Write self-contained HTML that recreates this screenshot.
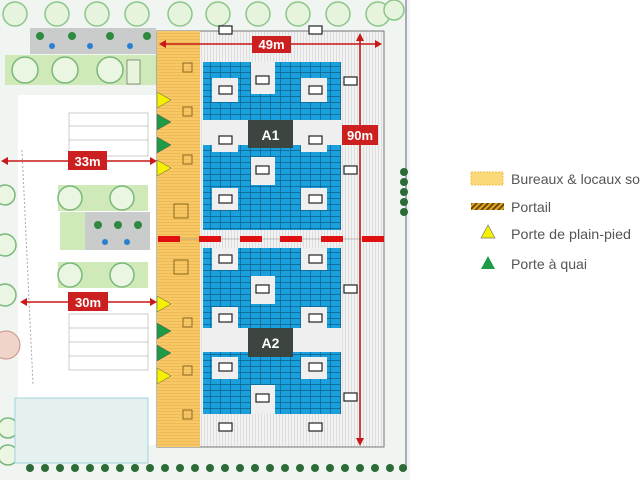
<!DOCTYPE html>
<html><head><meta charset="utf-8"><style>
html,body{margin:0;padding:0;background:#fff;}
svg{display:block;}
text{font-family:"Liberation Sans",sans-serif;}
</style></head><body>
<svg width="640" height="480" viewBox="0 0 640 480" xmlns="http://www.w3.org/2000/svg">
<defs>
<pattern id="vh" width="3" height="3" patternUnits="userSpaceOnUse"><rect width="3" height="3" fill="#f2f2f2"/><line x1="0.5" y1="0" x2="0.5" y2="3" stroke="#cfcfcf" stroke-width="0.6"/></pattern>
<pattern id="hh" width="3" height="3" patternUnits="userSpaceOnUse"><rect width="3" height="3" fill="#f7c865"/><line x1="0" y1="0.5" x2="3" y2="0.5" stroke="#e6ad45" stroke-width="0.5"/></pattern>
<pattern id="bg" width="10" height="6" patternUnits="userSpaceOnUse"><rect width="10" height="6" fill="#1aa0dc"/><path d="M0 0.5H10M0.5 0V6" stroke="#0e5f8a" stroke-width="0.7"/></pattern>
<pattern id="port" width="4" height="4" patternUnits="userSpaceOnUse" patternTransform="rotate(45)"><rect width="4" height="4" fill="#d9a21f"/><rect width="1.6" height="4" fill="#5a3b00"/></pattern>
</defs>
<!-- ground -->
<rect x="0" y="0" width="410" height="480" fill="#f1f5f1"/>
<rect x="18" y="95" width="140" height="350" fill="#fff"/>
<rect x="405" y="0" width="2" height="470" fill="#aab"/>
<!-- top trees -->
<g fill="#e6f3dd" stroke="#8cc68a" stroke-width="1.5">
<circle cx="15" cy="14" r="12"/><circle cx="57" cy="14" r="12"/><circle cx="97" cy="14" r="12"/><circle cx="137" cy="14" r="12"/><circle cx="180" cy="14" r="12"/><circle cx="218" cy="14" r="12"/><circle cx="258" cy="14" r="12"/><circle cx="298" cy="14" r="12"/><circle cx="338" cy="14" r="12"/><circle cx="378" cy="14" r="12"/><circle cx="394" cy="10" r="10"/>
</g>
<!-- left landscaping top -->
<rect x="30" y="28" width="126" height="26" fill="#c9ccca"/>
<g fill="#2f8a3f"><circle cx="40" cy="36" r="4"/><circle cx="72" cy="36" r="4"/><circle cx="110" cy="36" r="4"/><circle cx="147" cy="36" r="4"/></g>
<g fill="#2a7fd0"><circle cx="52" cy="46" r="3"/><circle cx="90" cy="46" r="3"/><circle cx="130" cy="46" r="3"/></g>
<rect x="5" y="55" width="152" height="30" fill="#cfe9b8"/>
<g fill="#eaf5e2" stroke="#7ab87a" stroke-width="1.5"><circle cx="25" cy="70" r="13"/><circle cx="65" cy="70" r="13"/><circle cx="110" cy="70" r="13"/></g>
<rect x="127" y="60" width="13" height="24" fill="#e8f5dc" stroke="#555" stroke-width="0.6"/>
<!-- parking upper -->
<g stroke="#999" stroke-width="0.5" fill="none"><rect x="69" y="113" width="79" height="43"/><line x1="69" y1="126" x2="148" y2="126"/><line x1="69" y1="140" x2="148" y2="140"/></g>
<!-- mid landscaping -->
<rect x="58" y="185" width="90" height="26" fill="#cfe9b8"/>
<rect x="60" y="212" width="90" height="38" fill="#c9ccca"/>
<rect x="60" y="212" width="25" height="38" fill="#cfe9b8"/>
<rect x="58" y="262" width="90" height="26" fill="#cfe9b8"/>
<g fill="#eaf5e2" stroke="#7ab87a" stroke-width="1.5"><circle cx="70" cy="198" r="12"/><circle cx="122" cy="198" r="12"/><circle cx="70" cy="275" r="12"/><circle cx="122" cy="275" r="12"/></g>
<g fill="#2f8a3f"><circle cx="98" cy="225" r="4"/><circle cx="118" cy="225" r="4"/><circle cx="138" cy="225" r="4"/></g>
<g fill="#2a7fd0"><circle cx="105" cy="242" r="3"/><circle cx="127" cy="242" r="3"/></g>
<!-- left edge -->
<g fill="#eaf5e2" stroke="#7ab87a" stroke-width="1.5"><circle cx="5" cy="195" r="10"/><circle cx="5" cy="245" r="11"/><circle cx="5" cy="295" r="11"/><circle cx="8" cy="428" r="10"/><circle cx="8" cy="455" r="10"/></g>
<circle cx="6" cy="345" r="14" fill="#f1d4c9" stroke="#c9938a"/>
<line x1="22" y1="150" x2="33" y2="385" stroke="#aaa" stroke-dasharray="2 2"/>
<!-- parking lower -->
<g stroke="#999" stroke-width="0.5" fill="none"><rect x="69" y="314" width="79" height="56"/><line x1="69" y1="328" x2="148" y2="328"/><line x1="69" y1="342" x2="148" y2="342"/><line x1="69" y1="356" x2="148" y2="356"/></g>
<!-- bottom building -->
<rect x="15" y="398" width="133" height="65" fill="#e4f1ee" stroke="#9fd3e0"/>
<!-- bottom hedge -->
<g fill="#2c6a38"><circle cx="30" cy="468" r="4"/><circle cx="45" cy="468" r="4"/><circle cx="60" cy="468" r="4"/><circle cx="75" cy="468" r="4"/><circle cx="90" cy="468" r="4"/><circle cx="105" cy="468" r="4"/><circle cx="120" cy="468" r="4"/><circle cx="135" cy="468" r="4"/><circle cx="150" cy="468" r="4"/><circle cx="165" cy="468" r="4"/><circle cx="180" cy="468" r="4"/><circle cx="195" cy="468" r="4"/><circle cx="210" cy="468" r="4"/><circle cx="225" cy="468" r="4"/><circle cx="240" cy="468" r="4"/><circle cx="255" cy="468" r="4"/><circle cx="270" cy="468" r="4"/><circle cx="285" cy="468" r="4"/><circle cx="300" cy="468" r="4"/><circle cx="315" cy="468" r="4"/><circle cx="330" cy="468" r="4"/><circle cx="345" cy="468" r="4"/><circle cx="360" cy="468" r="4"/><circle cx="375" cy="468" r="4"/><circle cx="390" cy="468" r="4"/><circle cx="403" cy="468" r="4"/></g>
<g fill="#2c6a38"><circle cx="404" cy="172" r="4"/><circle cx="404" cy="182" r="4"/><circle cx="404" cy="192" r="4"/><circle cx="404" cy="202" r="4"/><circle cx="404" cy="212" r="4"/></g>
<!-- building -->
<rect x="157" y="31" width="227" height="416" fill="url(#vh)" stroke="#777" stroke-width="1"/>
<rect x="157" y="31" width="43" height="416" fill="url(#hh)"/>
<line x1="157" y1="239" x2="384" y2="239" stroke="#888" stroke-width="0.6"/>
<!-- blue blocks -->
<g fill="url(#bg)">
<rect x="203" y="62" width="138" height="58"/>
<rect x="203" y="145" width="138" height="85"/>
<rect x="203" y="248" width="138" height="80"/>
<rect x="203" y="352" width="138" height="62"/>
</g>
<!-- white notches -->
<g fill="#efefef">
<rect x="251" y="62" width="24" height="32"/>
<rect x="212" y="78" width="26" height="24"/><rect x="301" y="78" width="26" height="24"/>
<rect x="212" y="130" width="26" height="22"/><rect x="301" y="130" width="26" height="22"/>
<rect x="251" y="157" width="24" height="28"/>
<rect x="212" y="188" width="26" height="22"/><rect x="301" y="188" width="26" height="22"/>
<rect x="212" y="248" width="26" height="22"/><rect x="301" y="248" width="26" height="22"/>
<rect x="251" y="276" width="24" height="28"/>
<rect x="212" y="307" width="26" height="22"/><rect x="301" y="307" width="26" height="22"/>
<rect x="212" y="357" width="26" height="22"/><rect x="301" y="357" width="26" height="22"/>
<rect x="251" y="385" width="24" height="29"/>
<rect x="203" y="120" width="138" height="25"/><rect x="203" y="328" width="138" height="24"/>
</g>
<!-- small boxes -->
<g fill="#fff" stroke="#222" stroke-width="1.2">
<rect x="219" y="26" width="13" height="8"/><rect x="309" y="26" width="13" height="8"/>
<rect x="256" y="76" width="13" height="8"/><rect x="344" y="77" width="13" height="8"/>
<rect x="219" y="86" width="13" height="8"/><rect x="309" y="86" width="13" height="8"/>
<rect x="219" y="136" width="13" height="8"/><rect x="309" y="136" width="13" height="8"/>
<rect x="256" y="166" width="13" height="8"/><rect x="344" y="166" width="13" height="8"/>
<rect x="219" y="195" width="13" height="8"/><rect x="309" y="195" width="13" height="8"/>
<rect x="219" y="255" width="13" height="8"/><rect x="309" y="255" width="13" height="8"/>
<rect x="256" y="285" width="13" height="8"/><rect x="344" y="285" width="13" height="8"/>
<rect x="219" y="314" width="13" height="8"/><rect x="309" y="314" width="13" height="8"/>
<rect x="219" y="363" width="13" height="8"/><rect x="309" y="363" width="13" height="8"/>
<rect x="256" y="394" width="13" height="8"/><rect x="344" y="393" width="13" height="8"/>
<rect x="219" y="423" width="13" height="8"/><rect x="309" y="423" width="13" height="8"/>
</g>
<!-- office small squares -->
<g fill="none" stroke="#8a6a20" stroke-width="1">
<rect x="183" y="63" width="9" height="9"/><rect x="183" y="107" width="9" height="9"/><rect x="183" y="155" width="9" height="9"/><rect x="174" y="204" width="14" height="14"/><rect x="174" y="260" width="14" height="14"/><rect x="183" y="318" width="9" height="9"/><rect x="183" y="366" width="9" height="9"/><rect x="183" y="410" width="9" height="9"/>
</g>
<!-- A labels -->
<rect x="248" y="120" width="45" height="28" fill="#3d4540"/><text x="270.5" y="140" text-anchor="middle" fill="#fff" font-size="14" font-weight="bold">A1</text>
<rect x="248" y="328" width="45" height="29" fill="#3d4540"/><text x="270.5" y="348" text-anchor="middle" fill="#fff" font-size="14" font-weight="bold">A2</text>
<!-- red dashed line -->
<g fill="#e01010"><rect x="158" y="236" width="22" height="6"/><rect x="199" y="236" width="22" height="6"/><rect x="240" y="236" width="22" height="6"/><rect x="280" y="236" width="22" height="6"/><rect x="321" y="236" width="22" height="6"/><rect x="362" y="236" width="22" height="6"/></g>
<!-- dimensions -->
<g stroke="#c81818" stroke-width="1.6" fill="#c81818">
<line x1="161" y1="44" x2="380" y2="44"/><path d="M159 44l7-4v8z M382 44l-7-4v8z" stroke="none"/>
<line x1="360" y1="36" x2="360" y2="442"/><path d="M360 33l-4 8h8z M360 446l-4-8h8z" stroke="none"/>
<line x1="3" y1="161" x2="154" y2="161"/><path d="M1 161l7-4v8z M157 161l-7-4v8z" stroke="none"/>
<line x1="22" y1="302" x2="154" y2="302"/><path d="M20 302l7-4v8z M157 302l-7-4v8z" stroke="none"/>
</g>
<g fill="#cc1f1f"><rect x="252" y="36" width="39" height="17"/><rect x="342" y="125" width="36" height="20"/><rect x="68" y="151" width="39" height="19"/><rect x="68" y="292" width="40" height="19"/></g>
<g fill="#fff" font-weight="bold" font-size="13" text-anchor="middle"><text x="271.5" y="49">49m</text><text x="360" y="140">90m</text><text x="87.5" y="166">33m</text><text x="88" y="307">30m</text></g>
<!-- triangles -->
<g stroke="#555" stroke-width="0.5">
<path d="M157 92l14 8l-14 8z" fill="#f5f000"/><path d="M157 114l14 8l-14 8z" fill="#1f9a45"/><path d="M157 137l14 8l-14 8z" fill="#1f9a45"/><path d="M157 160l14 8l-14 8z" fill="#f5f000"/>
<path d="M157 296l14 8l-14 8z" fill="#f5f000"/><path d="M157 323l14 8l-14 8z" fill="#1f9a45"/><path d="M157 345l14 8l-14 8z" fill="#1f9a45"/><path d="M157 368l14 8l-14 8z" fill="#f5f000"/>
</g>
<!-- legend -->
<rect x="471" y="172" width="32" height="13" fill="#fbd97a" stroke="#f0c04a" stroke-dasharray="2 1"/>
<rect x="471" y="203" width="33" height="7" fill="url(#port)"/>
<path d="M488 225l-7 13h14z" fill="#f5f000" stroke="#777" stroke-width="0.7"/>
<path d="M488 256l-7 13h14z" fill="#1f9a45"/>
<g fill="#555" font-size="14" font-family="Liberation Sans Narrow, Liberation Sans, sans-serif">
<text x="511" y="184" textLength="129" lengthAdjust="spacingAndGlyphs">Bureaux &amp; locaux so</text>
<text x="511" y="212" textLength="40" lengthAdjust="spacingAndGlyphs">Portail</text>
<text x="511" y="239" textLength="120" lengthAdjust="spacingAndGlyphs">Porte de plain-pied</text>
<text x="511" y="269" textLength="76" lengthAdjust="spacingAndGlyphs">Porte à quai</text>
</g>
</svg>
</body></html>
